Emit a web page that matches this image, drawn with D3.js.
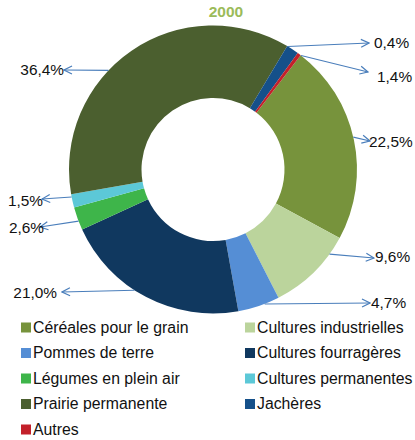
<!DOCTYPE html>
<html>
<head>
<meta charset="utf-8">
<script src="https://cdn.jsdelivr.net/npm/d3@7"></script>
<style>
  body { margin: 0; background: #fff; }
  svg text { font-family: "Liberation Sans", Arial, sans-serif; }
</style>
</head>
<body>
<div id="chart"></div>
<script>

/*
 * Data
 */
var categories = ['Céréales pour le grain', 'Cultures industrielles', 'Pommes de terre',
                  'Cultures fourragères', 'Légumes en plein air', 'Cultures permanentes',
                  'Prairie permanente', 'Jachères', 'Autres'];
var values = [22.5, 9.6, 4.7, 21.0, 2.6, 1.5, 36.4, 1.4, 0.4];
var colours = ['#77933C', '#BBD49C', '#558ED5', '#10385F', '#3EB54A', '#5CC8D7',
               '#4B5F2F', '#15508A', '#C3202A'];
var title = '2000';

/*
 * Layout (label placement, not data)
 */
var width = 415, height = 440;
var cx = 213, cy = 169.5, rOuter = 144, rInner = 71.5;
var firstSliceDeg = 37.5;
// leader line start angle (deg) and arrow tip per slice
var leaders = [
  { deg: 77,  tip: [370, 141], side: 'r' },
  { deg: 126, tip: [374, 258], side: 'r' },
  { deg: 159, tip: [370, 303], side: 'r' },
  { deg: 213, tip: [62, 292],  side: 'l' },
  { deg: 249, tip: [40, 227],  side: 'l' },
  { deg: 259, tip: [42, 199],  side: 'l' },
  { deg: 313.5, tip: [64, 70], side: 'l' },
  { deg: 37.7, tip: [368, 72], side: 'r' },
  { deg: 31.3, tip: [369, 43], side: 'r' }
];
var textAt = [[369, 147], [375, 262], [371, 308], [57, 298], [44, 233],
              [43, 206], [64, 75], [377, 82], [374, 48]];

function fmt(v) { return v.toFixed(1).replace('.', ',') + '%'; }

var svg = d3.select('#chart').append('svg')
  .attr('width', width).attr('height', height);

svg.append('defs').append('marker')
  .attr('id', 'arrow')
  .attr('viewBox', '0 0 10 10')
  .attr('refX', 9).attr('refY', 5)
  .attr('markerWidth', 10).attr('markerHeight', 10)
  .attr('markerUnits', 'userSpaceOnUse')
  .attr('orient', 'auto')
  .append('path')
  .attr('d', 'M1,1 L9,5 L1,9')
  .attr('fill', 'none')
  .attr('stroke', '#4A7EBB')
  .attr('stroke-width', 1.2);

svg.append('text')
  .attr('x', 226).attr('y', 17)
  .attr('text-anchor', 'middle')
  .attr('font-size', 15.5)
  .attr('font-weight', 'bold')
  .attr('fill', '#9BBB59')
  .text(title);

var toRad = Math.PI / 180;
var pie = d3.pie().sort(null)
  .startAngle(firstSliceDeg * toRad)
  .endAngle((firstSliceDeg + 360) * toRad);
var arc = d3.arc().innerRadius(rInner).outerRadius(rOuter);

var g = svg.append('g').attr('transform', 'translate(' + cx + ',' + cy + ')');
g.selectAll('path.slice')
  .data(pie(values))
  .enter().append('path')
  .attr('class', 'slice')
  .attr('d', arc)
  .attr('fill', function(d, i) { return colours[i]; });

// leader lines and labels
values.forEach(function(v, i) {
  var L = leaders[i];
  var a = L.deg * toRad;
  var x0 = cx + rOuter * Math.sin(a);
  var y0 = cy - rOuter * Math.cos(a);
  svg.append('line')
    .attr('x1', x0).attr('y1', y0)
    .attr('x2', L.tip[0]).attr('y2', L.tip[1])
    .attr('stroke', '#4A7EBB')
    .attr('stroke-width', 1.1)
    .attr('marker-end', 'url(#arrow)');
  svg.append('text')
    .attr('x', textAt[i][0]).attr('y', textAt[i][1])
    .attr('text-anchor', L.side === 'r' ? 'start' : 'end')
    .attr('font-size', 15.4)
    .attr('fill', '#111')
    .text(fmt(v));
});

// legend
var legend = svg.append('g');
categories.forEach(function(c, i) {
  var col = i % 2, row = Math.floor(i / 2);
  var x = col === 0 ? 21 : 245;
  var y = 327 + row * 25.5;
  legend.append('rect')
    .attr('x', x).attr('y', y - 4.5)
    .attr('width', 10).attr('height', 10)
    .attr('fill', colours[i]);
  legend.append('text')
    .attr('x', x + 12).attr('y', y + 5.5)
    .attr('font-size', 15.8)
    .attr('fill', '#111')
    .text(c);
});

</script>
</body>
</html>
